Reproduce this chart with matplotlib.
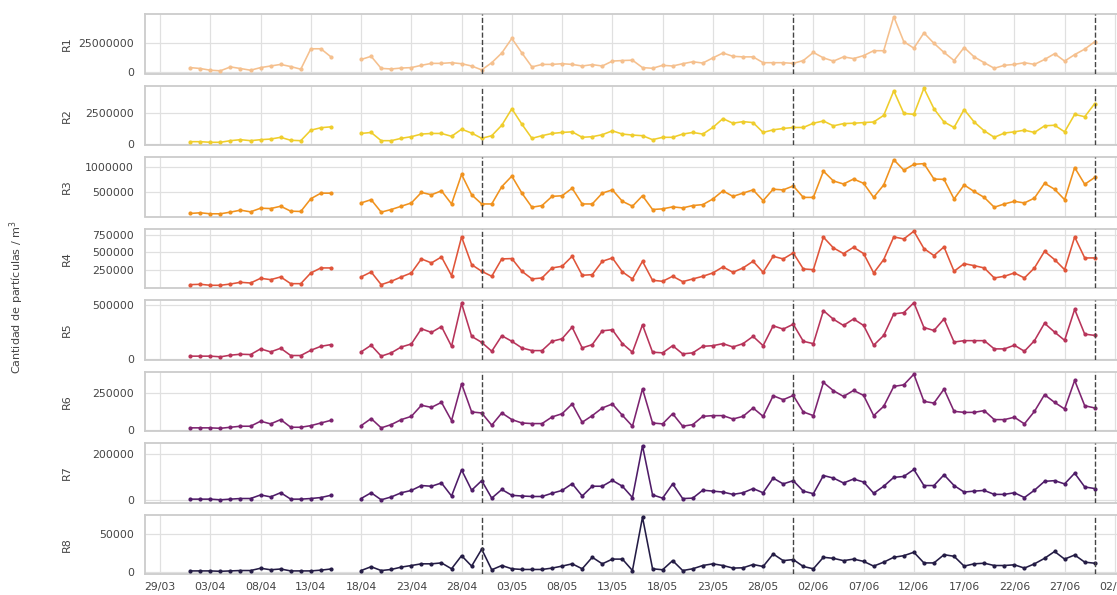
import matplotlib
matplotlib.use('Agg')
import matplotlib.pyplot as plt
import matplotlib.ticker as mticker
import pandas as pd
import numpy as np
import seaborn as sns

sns.set_style('whitegrid')
plt.rcParams['font.family'] = ['DejaVu Sans']

# ---------------- data ----------------
dates_first = pd.date_range('2020-04-01', '2020-04-15', freq='D')
dates_second = pd.date_range('2020-04-18', '2020-06-30', freq='D')

R1 = [3.7e6, 2.9e6, 1.4e6, 0.9e6, 4.3e6, 2.9e6, 1.4e6, 3.7e6, 5.1e6, 6.5e6, 4.6e6, 2.3e6, 20.2e6, 20.2e6, 13.1e6,
      10.8e6, 13.6e6, 3.0e6, 2.5e6, 3.3e6, 3.7e6, 5.7e6, 7.4e6, 7.4e6, 8.0e6, 7.1e6, 5.1e6, 1.7e6,
      8.0e6, 16.5e6, 29.3e6, 16.5e6, 4.3e6, 6.5e6, 6.5e6, 7.1e6, 6.5e6, 5.1e6, 6.3e6, 5.1e6, 9.4e6, 9.9e6, 10.2e6, 3.7e6,
      3.1e6, 5.7e6, 5.1e6, 7.1e6, 8.8e6, 7.7e6, 12.2e6, 16.5e6, 13.6e6, 13.1e6, 13.1e6, 8.0e6, 8.0e6, 8.0e6, 7.4e6,
      9.9e6, 17.0e6, 12.2e6, 9.4e6, 13.1e6, 11.6e6, 14.2e6, 18.5e6, 18.5e6, 48.3e6, 26.4e6, 20.7e6, 34.1e6, 25.0e6, 17.0e6,
      9.9e6, 21.3e6, 13.1e6, 8.0e6, 3.1e6, 5.7e6, 6.5e6, 8.0e6, 6.5e6, 10.8e6, 15.9e6, 9.4e6, 15.1e6, 19.9e6, 26.4e6]

R2 = [0.18e6, 0.18e6, 0.13e6, 0.13e6, 0.26e6, 0.34e6, 0.26e6, 0.34e6, 0.39e6, 0.53e6, 0.29e6, 0.26e6, 1.1e6, 1.3e6, 1.37e6,
      0.84e6, 0.92e6, 0.26e6, 0.26e6, 0.45e6, 0.58e6, 0.79e6, 0.84e6, 0.84e6, 0.61e6, 1.18e6, 0.87e6, 0.45e6,
      0.66e6, 1.5e6, 2.82e6, 1.58e6, 0.45e6, 0.66e6, 0.84e6, 0.92e6, 0.97e6, 0.53e6, 0.58e6, 0.74e6, 1.05e6, 0.79e6, 0.71e6,
      0.66e6, 0.34e6, 0.53e6, 0.53e6, 0.79e6, 0.92e6, 0.79e6, 1.32e6, 2.03e6, 1.66e6, 1.79e6, 1.71e6, 0.92e6, 1.13e6, 1.24e6, 1.32e6,
      1.32e6, 1.66e6, 1.84e6, 1.45e6, 1.63e6, 1.66e6, 1.71e6, 1.76e6, 2.29e6, 4.26e6, 2.45e6, 2.37e6, 4.47e6, 2.82e6, 1.76e6,
      1.32e6, 2.76e6, 1.76e6, 1.05e6, 0.53e6, 0.87e6, 0.97e6, 1.1e6, 0.92e6, 1.45e6, 1.5e6, 0.97e6, 2.37e6, 2.18e6, 3.24e6]

R3 = [78e3, 91e3, 71e3, 71e3, 104e3, 143e3, 110e3, 182e3, 175e3, 221e3, 123e3, 117e3, 370e3, 480e3, 480e3,
      286e3, 351e3, 104e3, 156e3, 221e3, 286e3, 494e3, 448e3, 526e3, 266e3, 851e3, 448e3, 266e3,
      266e3, 610e3, 818e3, 481e3, 201e3, 234e3, 416e3, 429e3, 578e3, 266e3, 266e3, 481e3, 545e3, 318e3, 221e3, 429e3,
      156e3, 169e3, 208e3, 188e3, 234e3, 253e3, 364e3, 526e3, 416e3, 481e3, 545e3, 331e3, 558e3, 545e3, 623e3,
      396e3, 396e3, 916e3, 721e3, 662e3, 760e3, 675e3, 396e3, 643e3, 1143e3, 935e3, 1052e3, 1065e3, 760e3, 753e3,
      364e3, 643e3, 513e3, 396e3, 201e3, 266e3, 318e3, 286e3, 383e3, 675e3, 558e3, 351e3, 987e3, 656e3, 792e3]

R4 = [49e3, 54e3, 40e3, 40e3, 58e3, 82e3, 72e3, 138e3, 119e3, 157e3, 63e3, 63e3, 213e3, 283e3, 283e3,
      157e3, 227e3, 49e3, 96e3, 157e3, 213e3, 409e3, 353e3, 437e3, 175e3, 717e3, 329e3, 236e3,
      166e3, 409e3, 414e3, 236e3, 129e3, 143e3, 283e3, 306e3, 446e3, 180e3, 189e3, 376e3, 423e3, 227e3, 129e3, 376e3,
      110e3, 96e3, 166e3, 91e3, 129e3, 166e3, 213e3, 297e3, 222e3, 283e3, 376e3, 222e3, 446e3, 409e3, 493e3,
      269e3, 259e3, 713e3, 563e3, 484e3, 572e3, 484e3, 213e3, 400e3, 717e3, 689e3, 797e3, 554e3, 456e3, 577e3,
      236e3, 343e3, 315e3, 283e3, 143e3, 166e3, 213e3, 143e3, 283e3, 516e3, 400e3, 259e3, 717e3, 423e3, 423e3]

R5 = [25e3, 25e3, 25e3, 19e3, 34e3, 43e3, 40e3, 93e3, 65e3, 99e3, 31e3, 31e3, 80e3, 117e3, 133e3,
      65e3, 127e3, 25e3, 56e3, 111e3, 139e3, 281e3, 247e3, 302e3, 117e3, 518e3, 210e3, 154e3,
      71e3, 216e3, 164e3, 102e3, 77e3, 77e3, 164e3, 188e3, 296e3, 102e3, 133e3, 262e3, 272e3, 142e3, 62e3, 318e3,
      62e3, 56e3, 123e3, 46e3, 56e3, 117e3, 123e3, 142e3, 111e3, 142e3, 210e3, 123e3, 309e3, 278e3, 324e3,
      164e3, 142e3, 451e3, 370e3, 312e3, 373e3, 312e3, 127e3, 219e3, 420e3, 432e3, 525e3, 293e3, 265e3, 373e3,
      157e3, 170e3, 170e3, 170e3, 93e3, 93e3, 127e3, 71e3, 170e3, 333e3, 250e3, 173e3, 463e3, 231e3, 219e3]

R6 = [14e3, 14e3, 14e3, 11e3, 18e3, 25e3, 25e3, 59e3, 41e3, 70e3, 18e3, 18e3, 29e3, 47e3, 65e3,
      29e3, 77e3, 14e3, 36e3, 70e3, 92e3, 167e3, 153e3, 187e3, 63e3, 313e3, 122e3, 115e3,
      32e3, 115e3, 70e3, 47e3, 43e3, 43e3, 88e3, 110e3, 176e3, 52e3, 97e3, 149e3, 176e3, 99e3, 25e3, 279e3,
      47e3, 41e3, 110e3, 25e3, 36e3, 92e3, 97e3, 97e3, 74e3, 92e3, 149e3, 92e3, 232e3, 205e3, 234e3,
      122e3, 97e3, 322e3, 266e3, 227e3, 268e3, 234e3, 97e3, 160e3, 295e3, 306e3, 378e3, 194e3, 182e3, 277e3,
      126e3, 119e3, 119e3, 131e3, 70e3, 70e3, 86e3, 41e3, 126e3, 239e3, 187e3, 142e3, 336e3, 164e3, 149e3]

R7 = [5.6e3, 5.6e3, 5.6e3, 2.8e3, 5.6e3, 8.3e3, 8.3e3, 23.6e3, 15.3e3, 33.3e3, 5.6e3, 5.6e3, 8.3e3, 12.5e3, 22.2e3,
      8.3e3, 33e3, 2.8e3, 15e3, 33e3, 43e3, 64e3, 61e3, 75e3, 19e3, 131e3, 44e3, 85e3,
      10e3, 47e3, 22e3, 19e3, 17e3, 17e3, 31e3, 43e3, 72e3, 19e3, 61e3, 61e3, 86e3, 61e3, 12.5e3, 235e3,
      24e3, 10e3, 71e3, 8e3, 10e3, 44e3, 40e3, 36e3, 26e3, 33e3, 51e3, 33e3, 96e3, 71e3, 85e3,
      40e3, 29e3, 107e3, 96e3, 75e3, 92e3, 79e3, 31e3, 61e3, 99e3, 103e3, 133e3, 64e3, 64e3, 110e3,
      64e3, 36e3, 40e3, 43e3, 26e3, 26e3, 33e3, 12.5e3, 44e3, 82e3, 85e3, 71e3, 117e3, 58e3, 51e3]

R8 = [1.5e3, 1.5e3, 1.5e3, 1.0e3, 1.5e3, 2.0e3, 2.0e3, 5.0e3, 3.0e3, 4.0e3, 1.5e3, 1.5e3, 1.5e3, 2.5e3, 4.0e3,
      2.0e3, 7.0e3, 2.0e3, 3.4e3, 6.5e3, 8.6e3, 10.8e3, 10.8e3, 12.0e3, 4.3e3, 21.5e3, 7.8e3, 30.0e3,
      3.0e3, 8.6e3, 4.3e3, 3.4e3, 3.4e3, 3.4e3, 5.2e3, 7.8e3, 10.8e3, 4.3e3, 19.4e3, 10.8e3, 17.0e3, 17.0e3, 2.0e3, 72.0e3,
      4.3e3, 3.0e3, 15.0e3, 2.0e3, 4.3e3, 8.6e3, 10.8e3, 8.6e3, 5.2e3, 5.6e3, 9.9e3, 7.3e3, 23.7e3, 15.0e3, 16.4e3,
      7.3e3, 4.3e3, 19.4e3, 18.0e3, 15.0e3, 17.0e3, 14.0e3, 7.8e3, 13.0e3, 19.4e3, 21.5e3, 26.0e3, 12.0e3, 12.0e3, 22.8e3,
      20.7e3, 7.8e3, 10.8e3, 11.6e3, 8.6e3, 8.6e3, 9.5e3, 5.2e3, 10.8e3, 18.0e3, 27.0e3, 17.0e3, 22.4e3, 13.0e3, 11.6e3]

series_names = ['R1', 'R2', 'R3', 'R4', 'R5', 'R6', 'R7', 'R8']
series_values = [R1, R2, R3, R4, R5, R6, R7, R8]
series_colors = ['#f5c08e', '#efcd2c', '#f0921e', '#e0553a', '#b7345a', '#7d2470', '#4f1c68', '#241c45']
yticks = [[0, 25000000], [0, 2500000], [500000, 1000000], [250000, 500000, 750000],
          [0, 500000], [0, 250000], [0, 200000], [0, 50000]]
ref_lines = ['2020-04-30', '2020-05-31', '2020-06-30']
xtick_start, xtick_end = '2020-03-29', '2020-07-02'
ylabel = 'Cantidad de partículas / m$^3$'

# ---------------- figure ----------------
W, H = 1117, 595
fig = plt.figure(figsize=(W / 100, H / 100), dpi=100)

all_dates = dates_first.append(dates_second)
full_index = pd.date_range(all_dates[0], all_dates[-1], freq='D')
xmin = all_dates[0] - pd.Timedelta(hours=108)
xmax = all_dates[-1] + pd.Timedelta(hours=108)
xticks = pd.date_range(xtick_start, xtick_end, freq='5D')

left_px, right_px = 145, 1140
top_px, panel_h, step = 14, 59.5, 71.5

for i, (name, vals, col, yt) in enumerate(zip(series_names, series_values, series_colors, yticks)):
    top = top_px + i * step
    ax = fig.add_axes([left_px / W, 1 - (top + panel_h) / H, (right_px - left_px) / W, panel_h / H])
    s = pd.Series(vals, index=all_dates).reindex(full_index)
    ax.plot(s.index, s.values, color=col, lw=1.15, marker='o', ms=2.0, zorder=3)
    for d in ref_lines:
        ax.axvline(pd.Timestamp(d), color='#444444', ls='--', lw=1.0, zorder=4)
    ax.set_xlim(xmin, xmax)
    ax.set_xticks(xticks)
    ax.set_yticks(yt)
    ax.yaxis.set_major_formatter(mticker.FuncFormatter(lambda v, p: f'{int(round(v))}'))
    ax.tick_params(axis='y', labelsize=7.8, labelcolor='#444444', pad=8, length=0)
    ax.tick_params(axis='x', labelsize=7.8, labelcolor='#444444', pad=6, length=0)
    if i < len(series_names) - 1:
        ax.set_xticklabels([])
    else:
        ax.set_xticklabels([d.strftime('%d/%m') for d in xticks])
    ax.set_ylabel(name, fontsize=8, color='#444444')
    ax.yaxis.set_label_coords(-0.073, 0.5)
    ax.grid(True, color='#e0e0e0', lw=0.9)
    for sp in ax.spines.values():
        sp.set_color('#cccccc')
        sp.set_linewidth(1.3)

fig.text(17 / W, 0.5, ylabel, rotation=90, va='center', ha='center', fontsize=8, color='#444444')

fig.savefig('out.png', dpi=100)
